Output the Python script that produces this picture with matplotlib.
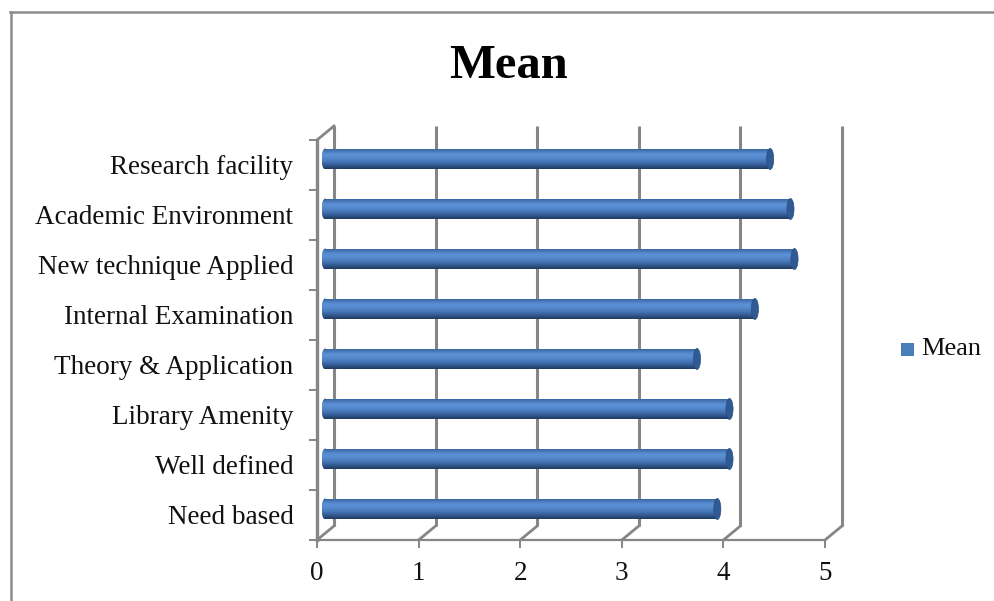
import numpy as np
import matplotlib
matplotlib.use('Agg')
import matplotlib.pyplot as plt
from matplotlib.colors import LinearSegmentedColormap
from matplotlib.lines import Line2D
from matplotlib.patches import Ellipse, Rectangle

# ============================================================================
# DATA
# ============================================================================

categories = ['Need based', 'Well defined', 'Library Amenity', 'Theory & Application',
              'Internal Examination', 'New technique Applied', 'Academic Environment',
              'Research facility']
means = [3.86, 3.98, 3.98, 3.66, 4.23, 4.62, 4.58, 4.38]
x_ticks = [0, 1, 2, 3, 4, 5]
series_name = 'Mean'

# ============================================================================
# STYLE
# ============================================================================

W, H = 994, 601
GREY = '#868686'
TEXT = '#111111'
FONT = 'Liberation Serif'
BAR_H = 0.42
DEPTH_X = 17 / 101.7     # back wall offset, in data units
DEPTH_Y = 14 / 50.0
SHIFT_X = 0.08           # bars sit halfway into the depth
SHIFT_Y = 0.12
CAP_L = 0.07
CAP_R = 0.07

bar_cmap = LinearSegmentedColormap.from_list(
    'bar', ['#345f96', '#4878b8', '#5a90d6', '#588ccf', '#4d80c0', '#3f6dab', '#2f5488', '#1f3a60'])

fig = plt.figure(figsize=(W / 100, H / 100), dpi=100, facecolor='white')
ax = fig.add_axes([317 / W, 1 - 540 / H, 508 / W, 400 / H])
ax.set_xlim(0, 5)
ax.set_ylim(0, len(categories))
ax.patch.set_visible(False)

# ============================================================================
# WALLS (back gridlines and floor diagonals)
# ============================================================================

top = len(categories) + DEPTH_Y
for t in x_ticks:
    ax.plot([t + DEPTH_X, t + DEPTH_X], [DEPTH_Y, top], color=GREY, lw=2.2,
            clip_on=False, zorder=1, solid_capstyle='butt')
    ax.plot([t, t + DEPTH_X], [0, DEPTH_Y], color=GREY, lw=2.0, clip_on=False, zorder=1)
ax.plot([0, DEPTH_X], [len(categories), top], color=GREY, lw=2.0, clip_on=False, zorder=1)

# ============================================================================
# BARS
# ============================================================================

gradient = np.linspace(0, 1, 64).reshape(-1, 1)

for i, v in enumerate(means):
    yc = i + 0.5 + SHIFT_Y
    x0 = SHIFT_X
    x1 = v + SHIFT_X
    y0, y1 = yc - BAR_H / 2, yc + BAR_H / 2

    # rounded left end, same shading as the body
    left_cap = Ellipse((x0, yc), CAP_L, BAR_H, fc='none', ec='none', zorder=3)
    ax.add_patch(left_cap)
    im = ax.imshow(gradient, cmap=bar_cmap, aspect='auto', origin='upper',
                   extent=[x0 - CAP_L / 2, x0 + 0.01, y0, y1], zorder=3)
    im.set_clip_path(left_cap)

    body = Rectangle((x0, y0), x1 - x0, BAR_H, fc='none', ec='none', zorder=3)
    ax.add_patch(body)
    im = ax.imshow(gradient, cmap=bar_cmap, aspect='auto', origin='upper',
                   extent=[x0, x1, y0, y1], zorder=3)
    im.set_clip_path(body)

    # darker end face
    ax.add_patch(Ellipse((x1, yc), CAP_R, BAR_H, fc='#2f5a94', ec='#2a4f82', lw=0.5,
                         zorder=4, clip_on=False))

ax.set_xlim(0, 5)
ax.set_ylim(0, len(categories))

# ============================================================================
# AXES, TICKS, LABELS
# ============================================================================

for side in ['top', 'right']:
    ax.spines[side].set_visible(False)
ax.spines['left'].set_color(GREY)
ax.spines['left'].set_linewidth(2.4)
ax.spines['bottom'].set_color(GREY)
ax.spines['bottom'].set_linewidth(1.6)

ax.set_xticks(x_ticks)
ax.set_xticklabels([str(t) for t in x_ticks], fontsize=19.5, family=FONT, color=TEXT)
ax.tick_params(axis='x', length=6, width=1.4, color=GREY, pad=9)

ax.set_yticks(range(len(categories) + 1))
ax.set_yticklabels([])
ax.tick_params(axis='y', which='major', length=6, width=1.4, color=GREY)
ax.set_yticks(np.arange(len(categories)) + 0.5, minor=True)
ax.set_yticklabels(categories, minor=True, fontsize=19.5, family=FONT, color=TEXT)
ax.tick_params(axis='y', which='minor', length=0, pad=17)

# ============================================================================
# TITLE, LEGEND, FRAME
# ============================================================================

fig.text(509 / W, 1 - 66 / H, series_name, ha='center', va='center', fontsize=35,
         family=FONT, fontweight='bold', color='#000000')

fig.patches.append(Rectangle((901 / W, 1 - 356 / H), 13 / W, 13 / H, transform=fig.transFigure,
                             fc='#4a7ebb', ec='none'))
fig.text(921 / W, 1 - 349 / H, series_name, ha='left', va='center', fontsize=19,
         family=FONT, color=TEXT)

fig.add_artist(Line2D([11 / W, 11 / W], [0, 1 - 12 / H], color='#8c8c8c', lw=1.8))
fig.add_artist(Line2D([10 / W, 1], [1 - 12 / H, 1 - 12 / H], color='#8c8c8c', lw=1.8))

fig.savefig('out.png', dpi=100)
